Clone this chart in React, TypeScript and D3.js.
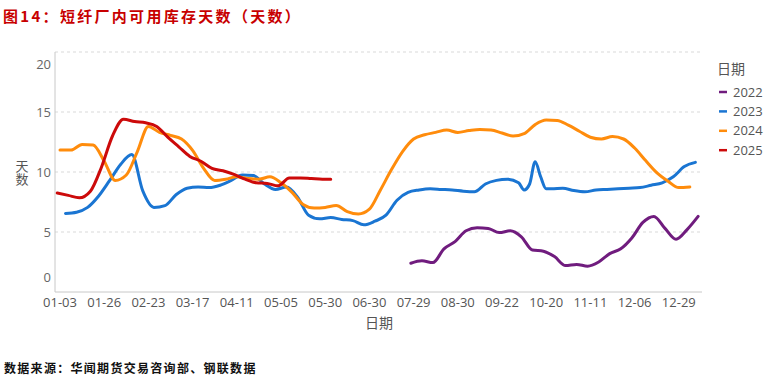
import React from 'react';
import * as d3 from 'd3';

// x axis: trading-day index, a tick label every 16 days
const tickLabels = ['01-03', '01-26', '02-23', '03-17', '04-11', '05-05', '05-30', '06-30', '07-29', '08-30', '09-22', '10-20', '11-11', '12-06', '12-29'];
const yTicks = [0, 5, 10, 15, 20];

// [day index, days of stock]
const s2022: [number, number][] = [
  [127, 2.4], [131, 2.6], [135, 2.45], [139, 3.6], [143, 4.2], [147, 5.1], [151, 5.35], [155, 5.3],
  [159, 4.95], [163, 5.1], [167, 4.6], [171, 3.5], [175, 3.4], [179, 2.95], [183, 2.2], [187, 2.3],
  [191, 2.15], [195, 2.5], [199, 3.2], [203, 3.6], [207, 4.5], [211, 5.8], [215, 6.3], [219, 5.3],
  [223, 4.4], [227, 5.2], [231, 6.3],
];

const s2023: [number, number][] = [
  [2, 6.55], [6, 6.65], [10, 7.05], [14, 8.0], [18, 9.3], [22, 10.65], [26, 11.45], [30, 8.4],
  [34, 7.05], [38, 7.2], [42, 8.1], [46, 8.65], [50, 8.75], [54, 8.7], [58, 8.9], [62, 9.3],
  [66, 9.75], [70, 9.7], [74, 9.0], [78, 8.55], [82, 8.75], [86, 7.9], [90, 6.4], [94, 6.1],
  [98, 6.2], [102, 6.05], [106, 5.95], [110, 5.6], [114, 5.9], [118, 6.4], [122, 7.65], [126, 8.3],
  [130, 8.5], [134, 8.6], [138, 8.55], [142, 8.5], [146, 8.4], [150, 8.35], [154, 9.0], [158, 9.3],
  [162, 9.4], [166, 9.1], [168, 8.5], [170, 9.0], [172, 10.85], [174, 9.6], [176, 8.6], [178, 8.6],
  [182, 8.65], [186, 8.45], [190, 8.35], [194, 8.5], [198, 8.55], [202, 8.6], [206, 8.65], [210, 8.7],
  [214, 8.9], [218, 9.1], [222, 9.6], [226, 10.45], [230, 10.8],
];

const s2024: [number, number][] = [
  [0, 11.83], [4, 11.83], [8, 12.3], [12, 12.25], [16, 10.9], [20, 9.3], [24, 9.75], [28, 11.7],
  [32, 13.8], [36, 13.3], [40, 13.05], [44, 12.75], [48, 11.8], [52, 10.3], [56, 9.3], [60, 9.4],
  [64, 9.6], [68, 9.45], [72, 9.4], [76, 9.6], [80, 9.1], [84, 8.3], [88, 7.3], [92, 7.0],
  [96, 7.05], [100, 7.2], [104, 6.7], [108, 6.5], [112, 6.9], [116, 8.5], [120, 10.2], [124, 11.7],
  [128, 12.75], [132, 13.1], [136, 13.3], [140, 13.5], [144, 13.3], [148, 13.45], [152, 13.55], [156, 13.5],
  [160, 13.25], [164, 13.0], [168, 13.2], [172, 13.95], [176, 14.33], [180, 14.3], [184, 13.9], [188, 13.4],
  [192, 12.9], [196, 12.75], [200, 12.95], [204, 12.75], [208, 12.0], [212, 10.95], [216, 9.95], [220, 9.25],
  [224, 8.7], [228, 8.75],
];

const s2025: [number, number][] = [
  [-1, 8.25], [3, 8.05], [7, 7.85], [11, 8.4], [15, 10.4], [19, 13.0], [23, 14.4], [27, 14.2],
  [31, 14.1], [35, 13.8], [39, 12.9], [43, 12.1], [47, 11.3], [51, 10.9], [55, 10.3], [59, 10.1],
  [63, 9.8], [67, 9.4], [71, 9.1], [75, 9.05], [79, 8.85], [83, 9.5], [87, 9.5], [91, 9.45],
  [95, 9.4], [98, 9.4],
];

const seriesNames = ['2022', '2023', '2024', '2025'];
const seriesData = [s2022, s2023, s2024, s2025];
const colors = ['#701C7E', '#1A75D2', '#FF8C0C', '#CC0A0A'];

const W = 774;
const H = 386;
const left = 55;
const right = 702;
const top = 52;
const bottom = 292;
const labelFont = '"Open Sans", "Noto Sans", sans-serif';
const cjkFont = '"Noto Sans CJK SC", sans-serif';

export default function App() {
  const x = d3.scaleLinear().domain([-1.81, 232.4]).range([left, right]);
  const y = d3.scaleLinear().domain([0, 20]).range([bottom, top]);

  const line = d3.line<[number, number]>()
    .x(d => x(d[0]))
    .y(d => y(d[1]))
    .curve(d3.curveMonotoneX);

  return (
    <svg width={W} height={H} style={{ position: 'absolute', left: 0, top: 0, background: '#fff' }}>
      <text x={3} y={22} fill="#C80000" fontFamily={cjkFont} fontWeight={700} fontSize={15} letterSpacing={2.3}>
        图14：短纤厂内可用库存天数（天数）
      </text>

      {/* grid */}
      {yTicks.filter(t => t > 0).map(t => (
        <line key={t} x1={left} x2={right} y1={y(t)} y2={y(t)} stroke="#d9d9d9" strokeDasharray="3,3" />
      ))}
      <line x1={left} x2={left} y1={top} y2={bottom} stroke="#c8c8c8" />
      <line x1={left} x2={right} y1={bottom} y2={bottom} stroke="#c8c8c8" />

      {/* y ticks, end labels held inside the plot like the source */}
      {yTicks.map(t => {
        const ty = Math.min(Math.max(y(t), top + 12), bottom - 15);
        return (
          <text key={t} x={51} y={ty} dy="0.35em" textAnchor="end" fontFamily={labelFont} fontSize={13} fill="#666">
            {t}
          </text>
        );
      })}
      <text x={22} y={173} textAnchor="middle" fontFamily={cjkFont} fontSize={13} fill="#555"
        style={{ writingMode: 'vertical-rl' }}>天数</text>

      {/* x ticks */}
      {tickLabels.map((lb, i) => (
        <text key={lb} x={x(i * 16)} y={302} dy="0.35em" textAnchor="middle" fontFamily={labelFont} fontSize={13} fill="#555">
          {lb}
        </text>
      ))}
      <text x={379} y={323} dy="0.35em" textAnchor="middle" fontFamily={cjkFont} fontSize={14} fill="#555">日期</text>

      {/* lines */}
      {seriesData.map((s, i) => (
        <path key={seriesNames[i]} d={line(s) || ''} fill="none" stroke={colors[i]} strokeWidth={3} strokeLinejoin="round" strokeLinecap="round" />
      ))}

      {/* legend */}
      <text x={717} y={69} dy="0.35em" fontFamily={cjkFont} fontSize={14} fill="#555">日期</text>
      {seriesNames.map((n, i) => (
        <g key={n} transform={`translate(718,${92 + i * 19.4})`}>
          <line x1={1} x2={9} y1={0} y2={0} stroke={colors[i]} strokeWidth={2.5} />
          <text x={15} y={0} dy="0.35em" fontFamily={labelFont} fontSize={13} fill="#555">{n}</text>
        </g>
      ))}

      <text x={4} y={369} dy="0.35em" fontFamily={cjkFont} fontWeight={700} fontSize={12} letterSpacing={1.3} fill="#111">
        数据来源：华闻期货交易咨询部、钢联数据
      </text>
    </svg>
  );
}
